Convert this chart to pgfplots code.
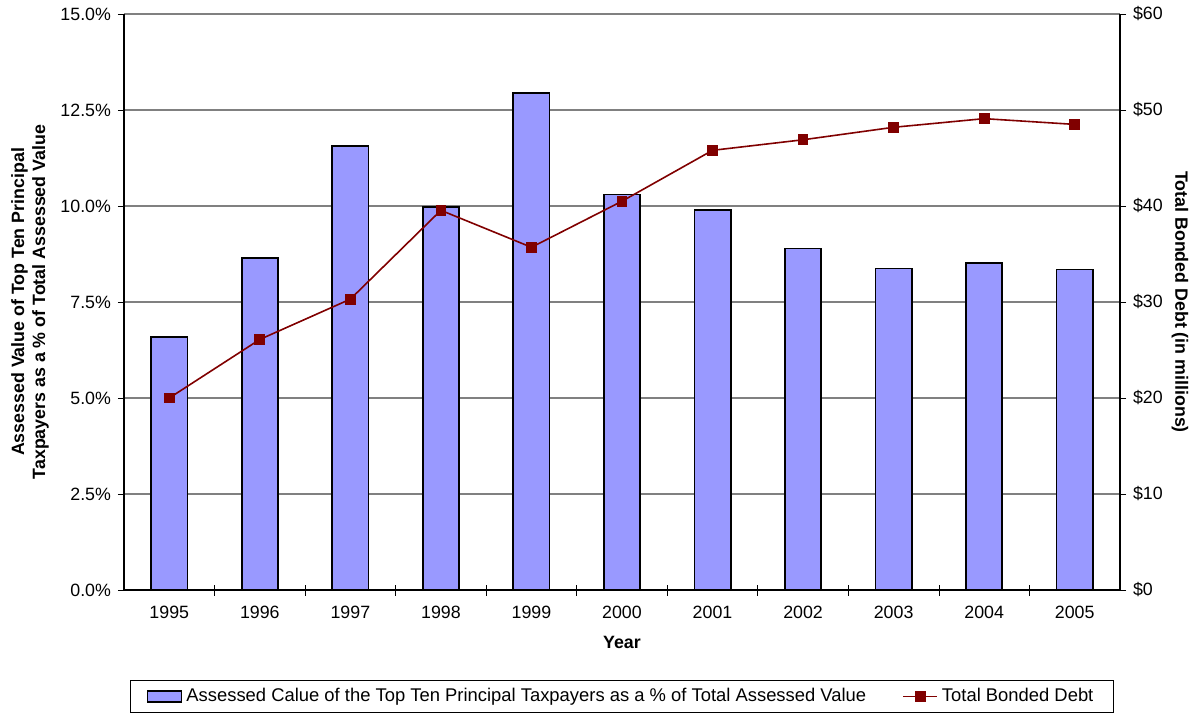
\documentclass[border=0pt]{standalone}
\usepackage{pgfplots}
\pgfplotsset{compat=1.18}
\usepackage{fontspec}
\setmainfont{Liberation Sans}
\definecolor{barblue}{HTML}{9999FF}
\definecolor{linered}{HTML}{800000}
\definecolor{gridgray}{HTML}{808080}
\begin{document}
\begin{tikzpicture}
\useasboundingbox (-62pt,-62pt) rectangle (538pt,295pt);
\begin{axis}[
  at={(0,0)}, anchor=south west,
  scale only axis, width=498pt, height=288pt,
  xmin=-0.5, xmax=10.5, ymin=0, ymax=15,
  axis y line*=left, axis x line*=bottom,
  ytick={0,2.5,...,15},
  yticklabel={\pgfmathprintnumber[fixed,fixed zerofill,precision=1]{\tick}\%},
  /pgf/number format/assume math mode=true,
  xtick={0,...,10},
  xticklabels={1995,1996,1997,1998,1999,2000,2001,2002,2003,2004,2005},
  major x tick style={draw=none},
  minor xtick={0.5,1.5,...,9.5},
  minor tick length=5.5pt,
  every minor tick/.style={tick align=center, black, thin},
  ytick align=outside, major tick length=3pt,
  ymajorgrids, grid style={gridgray, line width=0.6pt},
  tick style={black},
  ticklabel style={font=\fontsize{8.9}{10}\selectfont},
  xticklabel style={yshift=-3pt},
  axis line style={black, line width=0.7pt},
  xlabel={Year},
  xlabel style={font=\fontsize{8.9}{10}\selectfont\bfseries, yshift=-2pt},
  ylabel={Assessed Value of Top Ten Principal\\Taxpayers as a \% of Total Assessed Value},
  ylabel style={font=\fontsize{8.9}{10.5}\selectfont\bfseries, align=center, at={(axis description cs:-0.0944,0.5)}, anchor=center, rotate=0},
]
\addplot[ybar, bar width=0.4, fill=barblue, draw=black, line width=0.85pt] coordinates {
(0,6.59) (1,8.65) (2,11.57) (3,9.98) (4,12.95) (5,10.30) (6,9.90) (7,8.89) (8,8.37) (9,8.52) (10,8.35)
};
\end{axis}
\begin{axis}[
  at={(0,0)}, anchor=south west,
  scale only axis, width=498pt, height=288pt,
  xmin=-0.5, xmax=10.5, ymin=0, ymax=60,
  axis y line*=right, axis x line=none,
  ytick={0,10,...,60},
  yticklabel={\$\pgfmathprintnumber{\tick}},
  /pgf/number format/assume math mode=true,
  ytick align=outside, major tick length=3pt,
  tick style={black},
  ticklabel style={font=\fontsize{8.9}{10}\selectfont},
  axis line style={black, line width=0.7pt},
  ylabel={Total Bonded Debt (in millions)},
  ylabel style={font=\fontsize{8.9}{10}\selectfont\bfseries, at={(axis description cs:1.0602,0.5)}, anchor=center, rotate=180},
  legend columns=2,
  legend style={at={(axis description cs:0.5,-0.156)}, anchor=north, draw=black, line width=0.6pt, font=\fontsize{9.2}{10}\selectfont, /tikz/every even column/.append style={column sep=16pt}, inner ysep=2pt, inner xsep=8pt},
]
\addlegendimage{area legend, fill=barblue, draw=black, line width=0.85pt}
\addlegendentry{Assessed Calue of the Top Ten Principal Taxpayers as a \% of Total Assessed Value}
\addplot[linered, line width=0.8pt, mark=square*, mark size=2.3pt, mark options={fill=linered, draw=linered}] coordinates {
(0,20.0) (1,26.1) (2,30.3) (3,39.55) (4,35.7) (5,40.5) (6,45.8) (7,46.9) (8,48.2) (9,49.1) (10,48.5)
};
\addlegendentry{Total Bonded Debt}
\end{axis}
\end{tikzpicture}
\end{document}
